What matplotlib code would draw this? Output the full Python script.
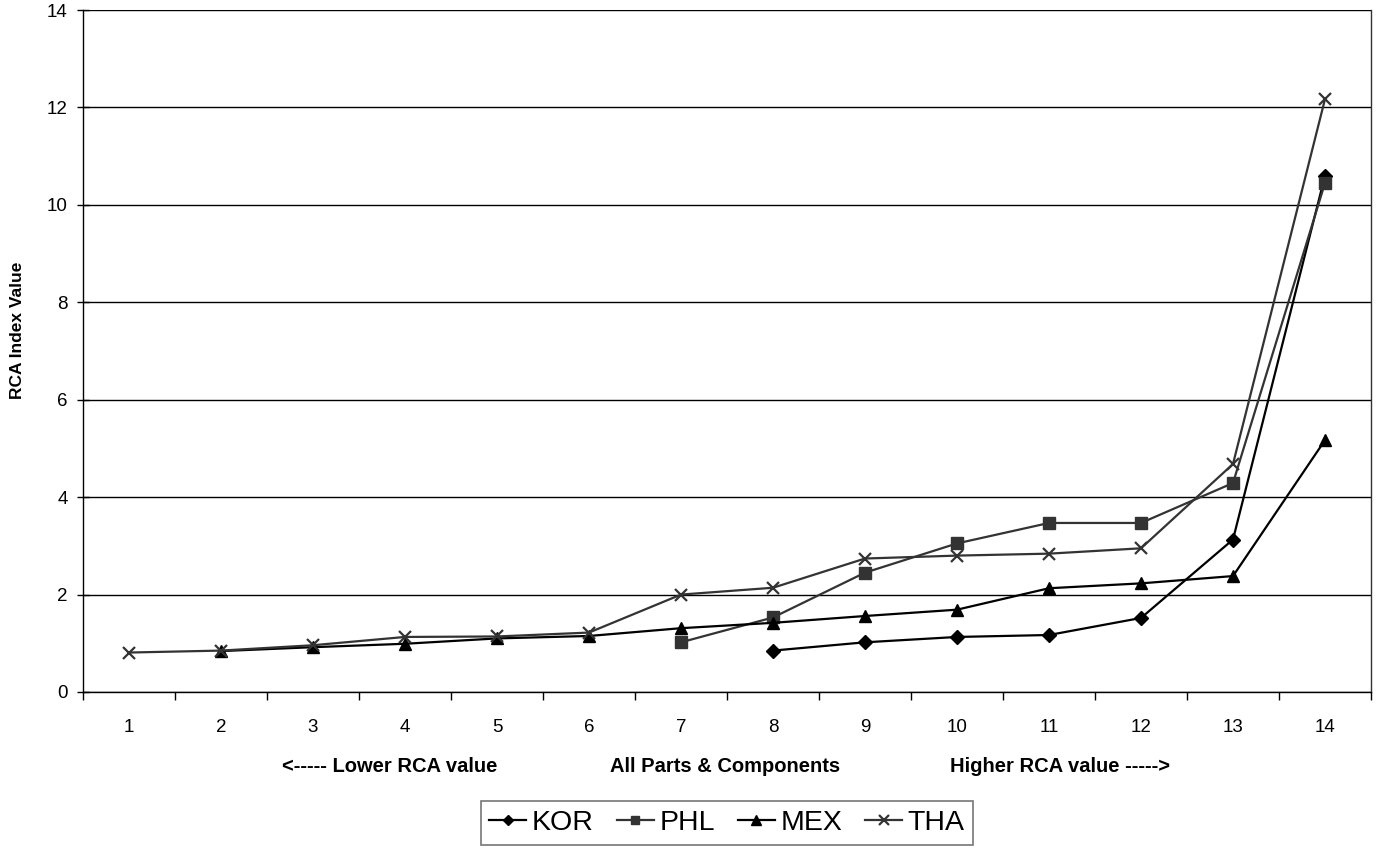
import matplotlib.pyplot as plt
from matplotlib.ticker import MultipleLocator, FixedLocator

plt.rcParams['font.family'] = ['Liberation Sans', 'DejaVu Sans']

# -------------------------
# Data
# -------------------------
categories = list(range(1, 15))

kor_x = [8, 9, 10, 11, 12, 13, 14]
kor_y = [0.85, 1.02, 1.13, 1.17, 1.52, 3.13, 10.6]

phl_x = [7, 8, 9, 10, 11, 12, 13, 14]
phl_y = [1.02, 1.53, 2.45, 3.05, 3.47, 3.47, 4.29, 10.45]

mex_x = [2, 3, 4, 5, 6, 7, 8, 9, 10, 11, 12, 13, 14]
mex_y = [0.84, 0.92, 0.99, 1.10, 1.15, 1.31, 1.42, 1.56, 1.69, 2.13, 2.23, 2.38, 5.17]

tha_x = [1, 2, 3, 4, 5, 6, 7, 8, 9, 10, 11, 12, 13, 14]
tha_y = [0.81, 0.85, 0.96, 1.13, 1.14, 1.22, 2.0, 2.14, 2.74, 2.80, 2.84, 2.95, 4.68, 12.17]

series = [
    {'label': 'KOR', 'x': kor_x, 'y': kor_y, 'color': 'black', 'marker': 'D', 'ms': 7},
    {'label': 'PHL', 'x': phl_x, 'y': phl_y, 'color': '#333333', 'marker': 's', 'ms': 8},
    {'label': 'MEX', 'x': mex_x, 'y': mex_y, 'color': 'black', 'marker': '^', 'ms': 9},
    {'label': 'THA', 'x': tha_x, 'y': tha_y, 'color': '#333333', 'marker': 'x', 'ms': 9},
]

fig = plt.figure(figsize=(13.77, 8.48), dpi=100)
ax = fig.add_axes([83 / 1377, 1 - 692 / 848, (1371 - 83) / 1377, (692 - 10) / 848])

for s in series:
    ax.plot(s['x'], s['y'], color=s['color'], marker=s['marker'], markersize=s['ms'],
            markeredgewidth=1.6 if s['marker'] == 'x' else 1.0,
            linewidth=1.6, label=s['label'], zorder=3)

# axes and grid
ax.set_xlim(0.5, 14.5)
ax.set_ylim(0, 14)
ax.yaxis.set_major_locator(MultipleLocator(2))
ax.yaxis.grid(True, color='black', linewidth=1)
ax.set_axisbelow(True)

ax.xaxis.set_major_locator(FixedLocator(categories))
ax.xaxis.set_minor_locator(FixedLocator([c + 0.5 for c in range(0, 15)]))
ax.tick_params(axis='x', which='major', length=0, labelsize=13.5, pad=19.5)
ax.tick_params(axis='x', which='minor', length=6, width=1, direction='out')
ax.tick_params(axis='y', which='major', length=8, width=1, direction='inout',
               labelsize=13.5, pad=7)

for side in ['top', 'right', 'left', 'bottom']:
    ax.spines[side].set_linewidth(1)
    ax.spines[side].set_color('black')
ax.spines['top'].set_visible(False)
ax.spines['right'].set_color('#333333')

fig.text(18 / 1377, 1 - 330 / 848, 'RCA Index Value', rotation=90, ha='center', va='center',
         fontsize=12.5, fontweight='bold')

# x-axis annotations
fig.text(390 / 1377, 1 - 767 / 848, '<----- Lower RCA value', ha='center', va='center',
         fontsize=14.5, fontweight='bold')
fig.text(725 / 1377, 1 - 767 / 848, 'All Parts & Components', ha='center', va='center',
         fontsize=14.5, fontweight='bold')
fig.text(1060 / 1377, 1 - 767 / 848, 'Higher RCA value ----->', ha='center', va='center',
         fontsize=14.5, fontweight='bold')

leg = fig.legend(loc='center', bbox_to_anchor=(727 / 1377, 1 - 823 / 848), ncol=4,
                 fontsize=20.5, frameon=True, fancybox=False, edgecolor='#555555',
                 handlelength=1.3, handletextpad=0.2, columnspacing=0.8,
                 borderpad=0.3, markerscale=0.75)
leg.get_frame().set_linewidth(1.2)

fig.savefig('out.png', dpi=100)
